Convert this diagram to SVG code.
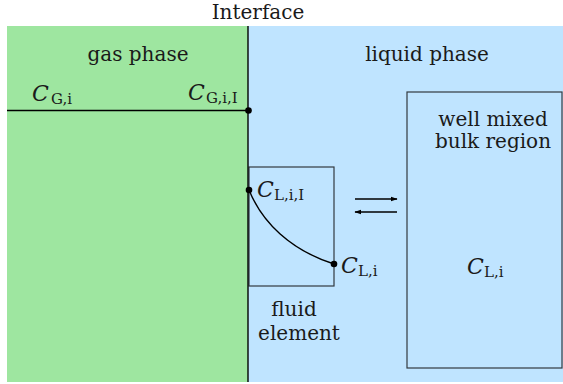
<svg xmlns="http://www.w3.org/2000/svg" width="563" height="384" viewBox="0 0 563 384">
<style>
text{font-family:"DejaVu Serif","Liberation Serif",serif;font-size:20px;fill:#1a1a1a}
.m{font-style:italic;font-size:22px}
.s{font-size:15px}
.c{text-anchor:middle}
.box{fill:#bfe4ff;stroke:#333a40;stroke-width:1.2}
.ln{stroke:#000;stroke-width:1.4;fill:none}
.dot{fill:#000}
</style>
<defs>
<marker id="ah" viewBox="0 0 10 10" refX="9" refY="5" markerWidth="7" markerHeight="7" orient="auto" markerUnits="userSpaceOnUse">
<path d="M0,1.5 L10,5 L0,8.5 z" fill="#000"/>
</marker>
</defs>
<g id="gas-phase">
<rect x="7" y="26" width="241" height="356" fill="#9ee6a0"/>
<text class="c" x="138" y="61">gas phase</text>
</g>
<g id="liquid-phase">
<rect x="248" y="26" width="315" height="356" fill="#bfe4ff"/>
<text class="c" x="427" y="61">liquid phase</text>
</g>
<g id="interface">
<text class="c" x="258" y="19">Interface</text>
</g>
<g id="bulk-region">
<rect class="box" x="407" y="92" width="155" height="276"/>
<text class="c" x="493" y="126">well mixed</text>
<text class="c" x="493" y="148">bulk region</text>
<text x="467" y="274"><tspan class="m">C</tspan><tspan class="s" x="484" y="277">L,i</tspan></text>
</g>
<g id="fluid-element">
<rect class="box" x="249" y="167" width="85" height="119"/>
<text class="c" x="294" y="316">fluid</text>
<text class="c" x="299" y="340">element</text>
</g>
<g id="connectors">
<line class="ln" x1="248" y1="26" x2="248" y2="382"/>
<line class="ln" x1="7" y1="110.5" x2="248" y2="110.5"/>
<path class="ln" d="M249,190 C262,222 290,250 334,264" stroke-width="1.2"/>
<line class="ln" x1="355" y1="199" x2="397" y2="199" stroke-width="1.2" marker-end="url(#ah)"/>
<line class="ln" x1="397" y1="212" x2="355" y2="212" stroke-width="1.2" marker-end="url(#ah)"/>
</g>
<g id="labels">
<text x="32" y="101"><tspan class="m">C</tspan><tspan class="s" x="51" y="104">G,i</tspan></text>
<text x="188" y="100"><tspan class="m">C</tspan><tspan class="s" x="206" y="103">G,i,I</tspan></text>
<text x="257" y="197"><tspan class="m">C</tspan><tspan class="s" x="274" y="200">L,i,I</tspan></text>
<text x="341" y="273"><tspan class="m">C</tspan><tspan class="s" x="358" y="276">L,i</tspan></text>
</g>
<g id="points">
<circle class="dot" cx="248.5" cy="110.5" r="3.3"/>
<circle class="dot" cx="249" cy="190" r="3.3"/>
<circle class="dot" cx="334" cy="264" r="3.3"/>
</g>
</svg>
